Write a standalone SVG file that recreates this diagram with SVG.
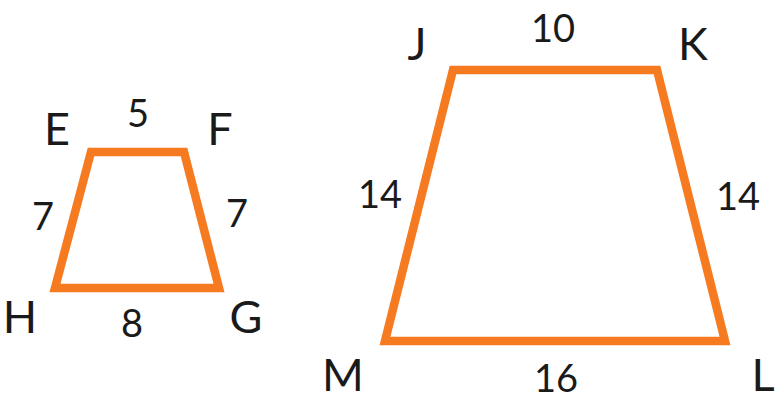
<svg xmlns="http://www.w3.org/2000/svg" width="777" height="401" viewBox="0 0 777 401">
<style>
.shape{fill:none;stroke:#F57A20;stroke-width:8.5;stroke-linejoin:miter}
.lbl{font-family:Lato,"Open Sans",sans-serif;font-size:45px;fill:#1a1a1a;text-anchor:middle}
.num{font-family:Lato,"Open Sans",sans-serif;font-size:38px;fill:#1a1a1a;text-anchor:middle}
</style>
<rect width="777" height="401" fill="#ffffff"/>
<g id="EFGH">
<polygon class="shape" points="91,152 184,152 219,288 55,288"/>
<text class="lbl" x="57" y="145">E</text>
<text class="lbl" x="220" y="145">F</text>
<text class="lbl" x="20" y="333">H</text>
<text class="lbl" x="246" y="333">G</text>
<text class="num" x="138" y="127">5</text>
<text class="num" x="43" y="230">7</text>
<text class="num" x="237" y="227">7</text>
<text class="num" x="132" y="337">8</text>
</g>
<g id="JKLM">
<polygon class="shape" points="453,70 657,70 725,341 385,341"/>
<text class="lbl" x="417" y="60">J</text>
<text class="lbl" x="693" y="60">K</text>
<text class="lbl" x="343" y="391">M</text>
<text class="lbl" x="763" y="391">L</text>
<text class="num" x="553" y="42">10</text>
<text class="num" x="380" y="208">14</text>
<text class="num" x="738" y="210">14</text>
<text class="num" x="556" y="392">16</text>
</g>
</svg>
